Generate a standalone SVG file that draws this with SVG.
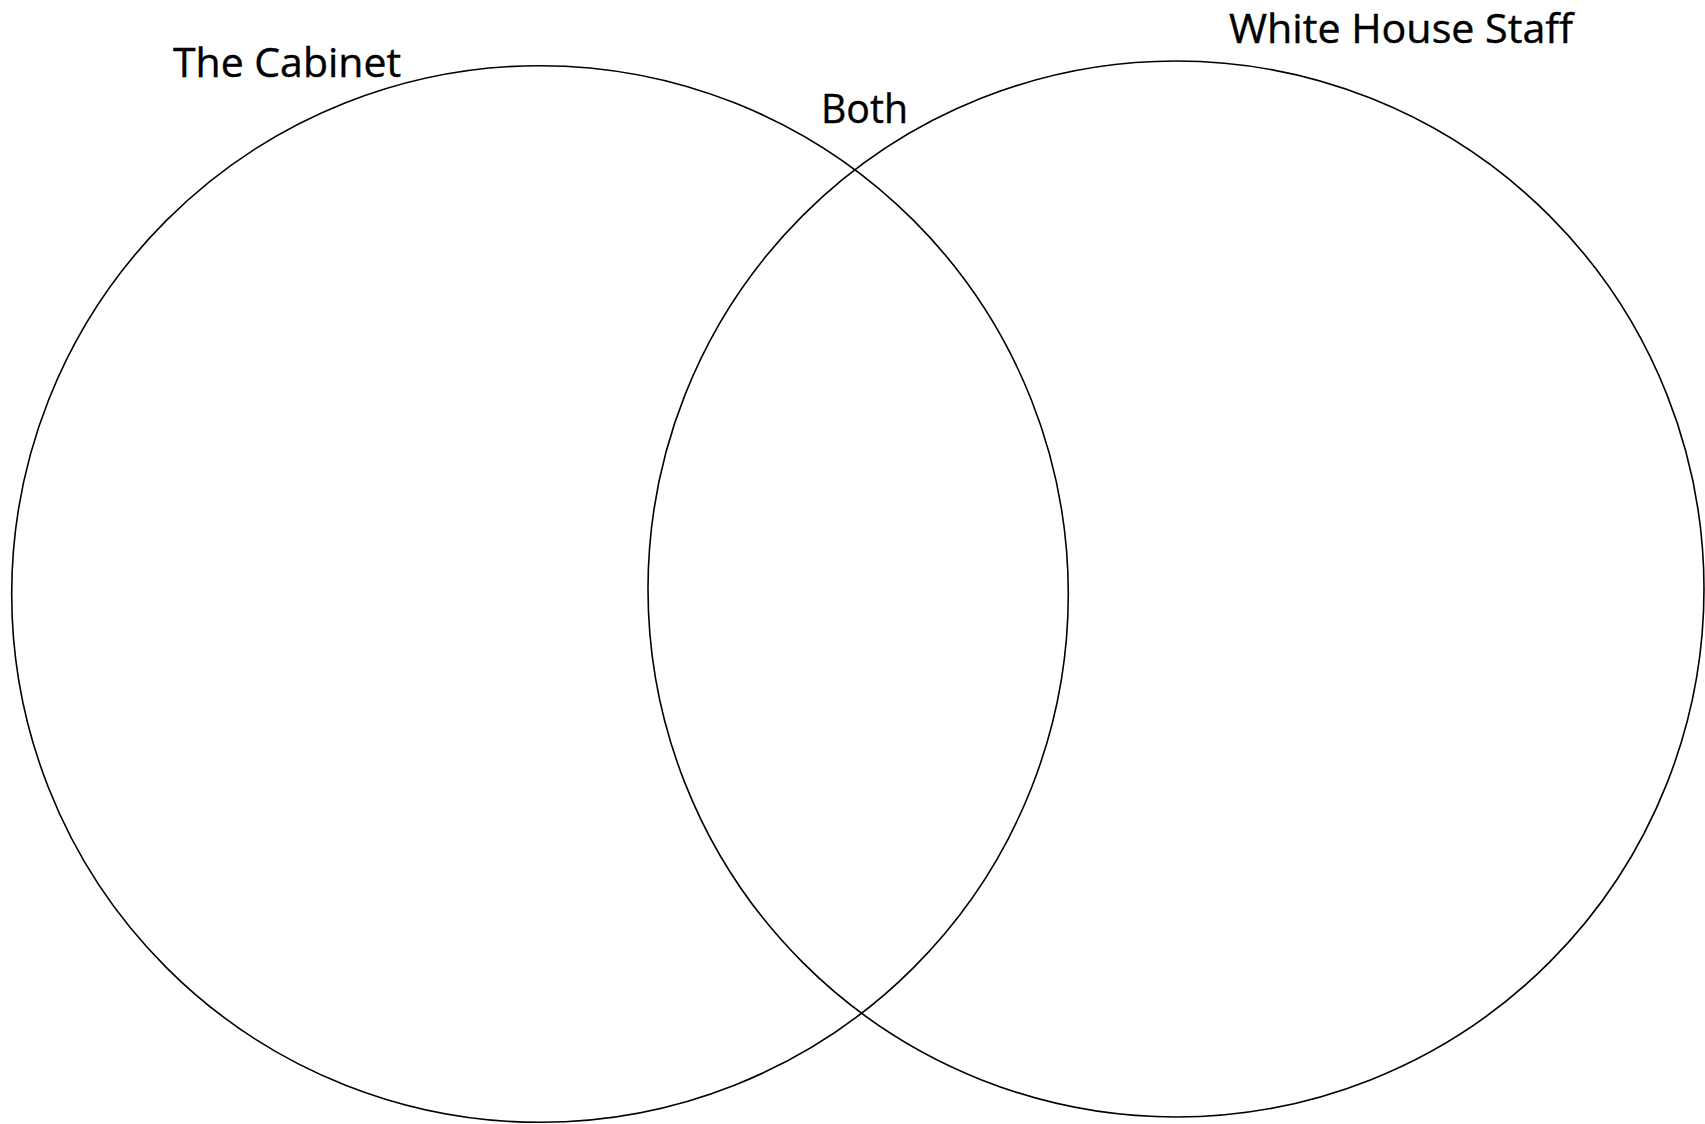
<svg xmlns="http://www.w3.org/2000/svg" width="1705" height="1124" viewBox="0 0 1705 1124">
<style>
.c{fill:none;stroke:#000;stroke-width:1.6}
.t{font-family:"Open Sans","Liberation Sans",sans-serif;font-size:40px;fill:#000;stroke:#000;stroke-width:0.4}
</style>
<rect width="1705" height="1124" fill="#fff"/>
<g id="cabinet">
<circle class="c" cx="540" cy="594" r="528.3"/>
<text class="t" x="173" y="77" textLength="228" lengthAdjust="spacingAndGlyphs">The Cabinet</text>
</g>
<g id="staff">
<circle class="c" cx="1176" cy="589" r="528"/>
<text class="t" x="1229" y="43" textLength="344" lengthAdjust="spacingAndGlyphs">White House Staff</text>
</g>
<g id="both">
<text class="t" x="821" y="123" textLength="87" lengthAdjust="spacingAndGlyphs">Both</text>
</g>
<g id="connectors"/>
</svg>
